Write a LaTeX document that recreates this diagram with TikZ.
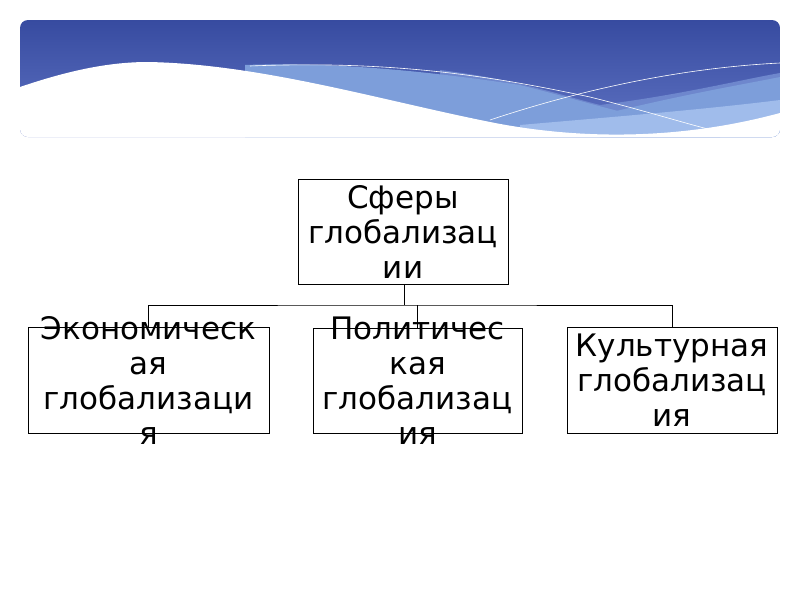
\documentclass[tikz,border=0pt]{standalone}
\usepackage{fontspec}
\setmainfont{DejaVu Sans}
\definecolor{dtop}{RGB}{55,75,160}
\definecolor{dbot}{RGB}{95,115,195}
\definecolor{band1}{RGB}{110,135,205}
\definecolor{band2}{RGB}{125,158,218}
\definecolor{band3}{RGB}{160,188,235}
\begin{document}
\begin{tikzpicture}[x=1pt,y=-1pt,
  box/.style={draw,line width=0.8pt,fill=white,inner sep=0pt},
  lbl/.style={align=center,font=\fontsize{31}{35}\selectfont},
  conn/.style={line width=0.8pt}]
\useasboundingbox (0,0) rectangle (800,600);
\begin{scope}
\clip[rounded corners=8] (20,20) rectangle (780,137);
\shade[top color=dtop,bottom color=dbot] (20,20) rectangle (780,137);
% right darker band
\fill[band1] (440,70) .. controls (520,80) and (560,95) .. (600,105) .. controls (680,95) and (740,80) .. (780,73) -- (780,137) -- (440,137) -- cycle;
% light band
\fill[band2] (245,65) .. controls (330,62) and (420,70) .. (520,85) .. controls (580,100) and (660,125) .. (720,132) -- (720,137) -- (245,137) -- cycle;
\fill[band2] (600,115) .. controls (680,95) and (740,85) .. (780,77) -- (780,137) -- (600,137) -- cycle;
\fill[band3] (520,125) .. controls (600,118) and (700,110) .. (780,100) -- (780,137) -- (520,137) -- cycle;
% white region
\fill[white] (20,87) .. controls (70,70) and (110,62) .. (148,62) .. controls (260,64) and (380,100) .. (490,122) .. controls (580,140) and (680,140) .. (780,113) -- (780,140) -- (20,140) -- cycle;
\draw[white,line width=0.6pt] (250,66) .. controls (400,60) and (500,78) .. (590,97) .. controls (650,112) and (690,125) .. (720,132);
\draw[white,line width=0.6pt] (490,120) .. controls (580,90) and (680,68) .. (780,63);
\end{scope}
\node[box,minimum width=210,minimum height=105] (top) at (403,231.5) {};
\node[lbl] at (top) {Сферы\\глобализац\\ии};
\node[box,minimum width=241,minimum height=106] (ec) at (148.5,380) {};
\node[lbl] at (ec) {Экономическ\\ая\\глобализаци\\я};
\node[box,minimum width=209,minimum height=105] (po) at (417.5,380.5) {};
\node[lbl] at (po) {Политичес\\кая\\глобализац\\ия};
\node[box,minimum width=210,minimum height=106] (cu) at (672,380) {};
\node[lbl] at (cu) {Культурная\\глобализац\\ия};
\coordinate (j) at (404,305);
\draw[conn] (top.south -| j) -- (j);
\draw[conn] (ec.north) |- (j) -| (cu.north);
\draw[conn] (po.north) -- (po.north |- j);
\end{tikzpicture}
\end{document}
